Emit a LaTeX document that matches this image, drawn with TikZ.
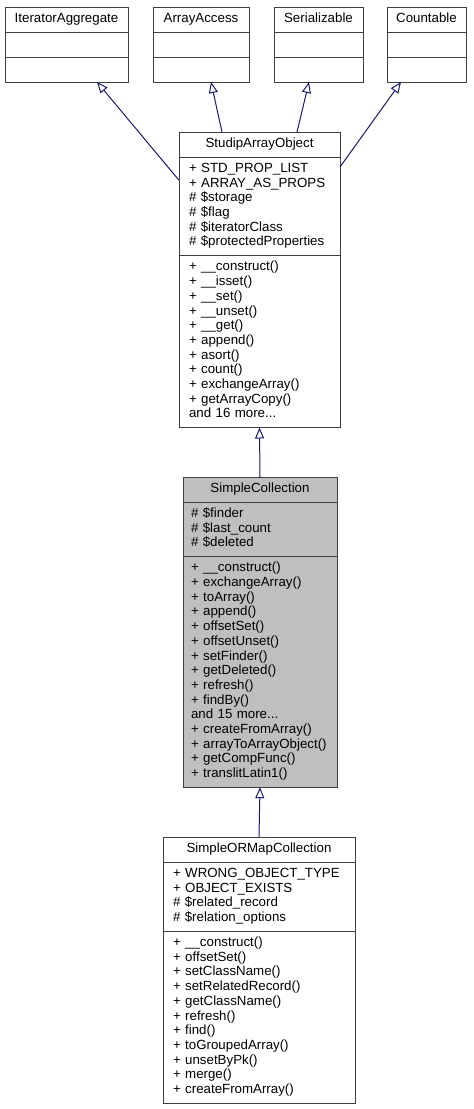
\documentclass[tikz,border=0pt]{standalone}
\usepackage{fontspec}
\setmainfont{Liberation Sans}
\usetikzlibrary{arrows.meta, positioning}
\definecolor{dxnavy}{HTML}{191970}
\definecolor{dxedge}{HTML}{404040}
\definecolor{dxfill}{HTML}{BFBFBF}
\newcommand{\umlfont}{\fontsize{13.3}{14.7}\selectfont\hyphenpenalty=10000\exhyphenpenalty=10000}
\tikzset{
	ubox/.style={draw=dxedge, fill=white, line width=1pt, font=\umlfont,
		inner ysep=5.15pt, outer sep=0pt,
		execute at begin node=\strut, execute at end node=\strut},
	uhead/.style={ubox, minimum width=#1, inner xsep=0pt},
	upart/.style={ubox, text width=#1, inner xsep=10pt, align=left},
	uarr/.style={-{Triangle[open, length=11pt, width=9pt]}, line width=1pt, draw=dxnavy}
}
\begin{document}
\begin{tikzpicture}[x=1pt, y=-1pt]
	\useasboundingbox (0,0) rectangle (474,1109);
	\node[uhead=123pt, anchor=north] (ia) at (66.5,7) {IteratorAggregate};
	\node[upart=103pt, below=0pt of ia] (ia-attr) {};
	\node[upart=103pt, below=0pt of ia-attr] (ia-ops) {};
	\node[uhead=96pt, anchor=north] (aa) at (201,7) {ArrayAccess};
	\node[upart=76pt, below=0pt of aa] (aa-attr) {};
	\node[upart=76pt, below=0pt of aa-attr] (aa-ops) {};
	\node[uhead=89pt, anchor=north] (ser) at (318.5,7) {Serializable};
	\node[upart=69pt, below=0pt of ser] (ser-attr) {};
	\node[upart=69pt, below=0pt of ser-attr] (ser-ops) {};
	\node[uhead=79pt, anchor=north] (cnt) at (426.5,7) {Countable};
	\node[upart=59pt, below=0pt of cnt] (cnt-attr) {};
	\node[upart=59pt, below=0pt of cnt-attr] (cnt-ops) {};

	\node[uhead=161pt, anchor=north] (sao) at (259.5,132) {StudipArrayObject};
	\node[upart=141pt, below=0pt of sao] (sao-attr) {+ STD\_PROP\_LIST\\+ ARRAY\_AS\_PROPS\\\# \$storage\\\# \$flag\\\# \$iteratorClass\\\# \$protectedProperties};
	\node[upart=141pt, below=0pt of sao-attr] (sao-ops) {+ \_\_construct()\\+ \_\_isset()\\+ \_\_set()\\+ \_\_unset()\\+ \_\_get()\\+ append()\\+ asort()\\+ count()\\+ exchangeArray()\\+ getArrayCopy()\\and 16 more...};

	\node[uhead=154pt, fill=dxfill, anchor=north] (sc) at (260,477) {SimpleCollection};
	\node[upart=138pt, inner xsep=8pt, fill=dxfill, below=0pt of sc] (sc-attr) {\# \$finder\\\# \$last\_count\\\# \$deleted};
	\node[upart=138pt, inner xsep=8pt, fill=dxfill, below=0pt of sc-attr] (sc-ops) {+ \_\_construct()\\+ exchangeArray()\\+ toArray()\\+ append()\\+ offsetSet()\\+ offsetUnset()\\+ setFinder()\\+ getDeleted()\\+ refresh()\\+ findBy()\\and 15 more...\\+ createFromArray()\\+ arrayToArrayObject()\\+ getCompFunc()\\+ translitLatin1()};

	\node[uhead=192pt, anchor=north] (sorm) at (259,837) {SimpleORMapCollection};
	\node[upart=172pt, below=0pt of sorm] (sorm-attr) {+ WRONG\_OBJECT\_TYPE\\+ OBJECT\_EXISTS\\\# \$related\_record\\\# \$relation\_options};
	\node[upart=172pt, below=0pt of sorm-attr] (sorm-ops) {+ \_\_construct()\\+ offsetSet()\\+ setClassName()\\+ setRelatedRecord()\\+ getClassName()\\+ refresh()\\+ find()\\+ toGroupedArray()\\+ unsetByPk()\\+ merge()\\+ createFromArray()};

	\draw[uarr] ([yshift=26pt]sao-attr.west) -- ([xshift=30.5pt]ia-ops.south);
	\draw[uarr] ([xshift=-37.5pt]sao.north) -- ([xshift=10pt]aa-ops.south);
	\draw[uarr] ([xshift=37.5pt]sao.north) -- ([xshift=-9.5pt]ser-ops.south);
	\draw[uarr] ([yshift=-10pt]sao-attr.north east) -- ([xshift=-25.5pt]cnt-ops.south);
	\draw[uarr] (sc.north) -- (sao-ops.south);
	\draw[uarr] (sorm.north) -- (sc-ops.south);
\end{tikzpicture}
\end{document}
